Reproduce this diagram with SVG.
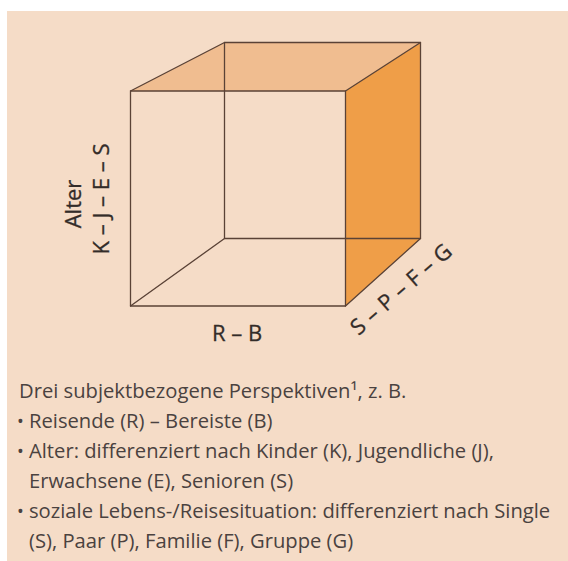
<svg xmlns="http://www.w3.org/2000/svg" width="568" height="561" viewBox="0 0 568 561">
<style>
.edge{fill:none;stroke:#5a4236;stroke-width:1.3;stroke-linejoin:round;stroke-linecap:round}
.lbl{font-family:"Open Sans","Noto Sans","Liberation Sans",sans-serif;font-size:22px;fill:#332c29;stroke:#332c29;stroke-width:0.3}
.body{font-family:"Open Sans","Noto Sans","Liberation Sans",sans-serif;font-size:20.2px;fill:#4a4240}
.b{font-size:18px}
</style>
<rect x="0" y="0" width="568" height="561" fill="#ffffff"/>
<rect x="7" y="11" width="561" height="550" fill="#f5dcc7"/>
<g id="cube">
  <g id="faces">
    <polygon id="top-face" points="130.5,91 224.5,42.5 420.5,42.5 345.5,91" fill="#f0bd90"/>
    <polygon id="right-face" points="345.5,91 420.5,42.5 420.5,238.5 345.5,306" fill="#ef9e48"/>
  </g>
  <g id="connectors">
    <rect class="edge" x="224.5" y="42.5" width="196" height="196"/>
    <rect class="edge" x="130.5" y="91" width="215" height="215"/>
    <line class="edge" x1="130.5" y1="91" x2="224.5" y2="42.5"/>
    <line class="edge" x1="345.5" y1="91" x2="420.5" y2="42.5"/>
    <line class="edge" x1="130.5" y1="306" x2="224.5" y2="238.5"/>
    <line class="edge" x1="345.5" y1="306" x2="420.5" y2="238.5"/>
  </g>
</g>
<g id="axis-labels">
  <text class="lbl" id="alter" transform="translate(81,204) rotate(-90)" text-anchor="middle">Alter</text>
  <text class="lbl" id="kjes" transform="translate(109,199) rotate(-90)" text-anchor="middle">K – J – E – S</text>
  <text class="lbl" id="rb" x="237" y="341" text-anchor="middle">R – B</text>
  <text class="lbl" id="spfg" transform="translate(406,295) rotate(-41)" text-anchor="middle" textLength="126" lengthAdjust="spacing">S–P–F–G</text>
</g>
<g id="legend">
  <text class="body" x="19" y="398">Drei subjektbezogene Perspektiven¹, z. B.</text>
  <text class="body" y="428"><tspan class="b" x="17">•</tspan><tspan x="29">Reisende (R) – Bereiste (B)</tspan></text>
  <text class="body" y="458"><tspan class="b" x="17">•</tspan><tspan x="29">Alter: differenziert nach Kinder (K), Jugendliche (J),</tspan></text>
  <text class="body" x="29" y="488">Erwachsene (E), Senioren (S)</text>
  <text class="body" y="518"><tspan class="b" x="17">•</tspan><tspan x="29">soziale Lebens-/Reisesituation: differenziert nach Single</tspan></text>
  <text class="body" x="29" y="548">(S), Paar (P), Familie (F), Gruppe (G)</text>
</g>
</svg>
